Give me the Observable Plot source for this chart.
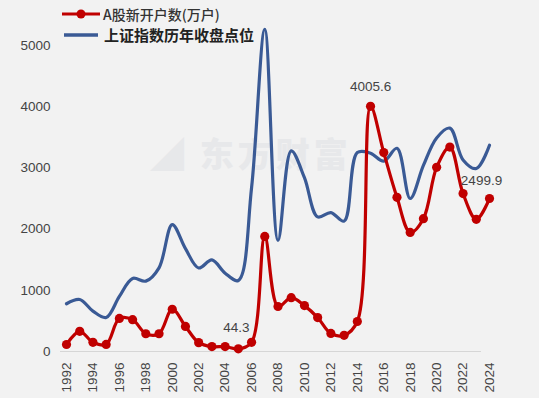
<!DOCTYPE html>
<html>
<head>
<meta charset="utf-8">
<script src="https://cdn.jsdelivr.net/npm/d3@7"></script>
<script src="https://cdn.jsdelivr.net/npm/@observablehq/plot@0.6"></script>
<style>
  html, body { margin: 0; padding: 0; background: #f2f2f2; }
  #wrap { position: relative; width: 539px; height: 398px; overflow: hidden; background: #f2f2f2; }
  #chart { position: relative; z-index: 1; }
  #legend { position: absolute; z-index: 2; left: 62px; top: 3px; font-family: "Noto Sans CJK SC", sans-serif; }
  .item { display: flex; align-items: center; height: 21px; }
  .item span { margin-left: 3px; }
  #wm { position: absolute; z-index: 0; left: 150px; top: 128px; font-family: "Noto Sans CJK SC", sans-serif; font-weight: 900; font-size: 34px; color: #e7e8ea; letter-spacing: 4px; }
</style>
</head>
<body>
<div id="wrap">
  <div id="wm">◢ 东方财富</div>
  <div id="chart"></div>
  <div id="legend">
    <div class="item">
      <svg width="38" height="12"><line x1="0" y1="6" x2="38" y2="6" stroke="#c00000" stroke-width="3"/><circle cx="19" cy="6" r="4.5" fill="#c00000"/></svg>
      <span style="font-size:14px;color:#333;font-weight:500">A股新开户数(万户)</span>
    </div>
    <div class="item">
      <svg width="38" height="12"><line x1="2" y1="6" x2="36" y2="6" stroke="#3a5a95" stroke-width="3.5"/></svg>
      <span style="font-size:15px;color:#222;font-weight:700;margin-left:4px">上证指数历年收盘点位</span>
    </div>
  </div>
</div>
<script>
const years = d3.range(1992, 2025);
const newAccounts = [114, 330, 150, 115, 540, 520, 290, 290, 690, 410, 145, 80, 80, 44.3, 150,
  1880, 735, 880, 750, 555, 295, 265, 490, 4005.6, 3250, 2520, 1945, 2170, 3010, 3340, 2580, 2160, 2499.9];
const indexClose = [780, 850, 660, 555, 900, 1194, 1150, 1367, 2073, 1680, 1365, 1497, 1280, 1161, 2675,
  5262, 1815, 3277, 2840, 2199, 2269, 2130, 3250, 3240, 3110, 3320, 2500, 3040, 3490, 3650, 3130, 2990, 3370];
const yTicks = [0, 1000, 2000, 3000, 4000, 5000];
const xTicks = d3.range(1992, 2025, 2);
const labelYears = [2005, 2015, 2024];
const labelTexts = ["44.3", "4005.6", "2499.9"];

const red = years.map((y, i) => ({year: y, value: newAccounts[i]}));
const blue = years.map((y, i) => ({year: y, value: indexClose[i]}));
const labels = labelYears.map((y, i) => ({year: y, value: newAccounts[years.indexOf(y)], text: labelTexts[i]}));

const chart = Plot.plot({
  width: 539,
  height: 398,
  marginLeft: 66,
  marginRight: 50,
  marginTop: 45,
  marginBottom: 47,
  style: {background: "transparent", fontFamily: "Liberation Sans, Arial, sans-serif"},
  x: {domain: [1992, 2024]},
  y: {domain: [0, 5000]},
  marks: [
    Plot.ruleY([0], {stroke: "#d6d6d6", strokeWidth: 1.2, insetLeft: -6, insetRight: 8}),
    Plot.axisY({ticks: yTicks, tickFormat: "d", tickSize: 0, tickPadding: 16, fontSize: 13.5, fill: "#444", label: null}),
    Plot.axisX({ticks: xTicks, tickFormat: "d", tickSize: 0, tickPadding: 11, tickRotate: -90, fontSize: 13.5, fill: "#444", label: null}),
    Plot.line(blue, {x: "year", y: "value", stroke: "#3a5a95", strokeWidth: 3.2, curve: "catmull-rom"}),
    Plot.line(red, {x: "year", y: "value", stroke: "#c00000", strokeWidth: 3.2, curve: "catmull-rom"}),
    Plot.dot(red, {x: "year", y: "value", r: 4.6, fill: "#c00000"}),
    Plot.text(labels.filter(d => d.year === 2005), {x: "year", y: "value", text: "text", dy: -21, dx: -2, fontSize: 13.5, fill: "#444"}),
    Plot.text(labels.filter(d => d.year === 2015), {x: "year", y: "value", text: "text", dy: -20, dx: 0, fontSize: 13.5, fill: "#444"}),
    Plot.text(labels.filter(d => d.year === 2024), {x: "year", y: "value", text: "text", dy: -18, dx: -8, fontSize: 13.5, fill: "#444"})
  ]
});
document.getElementById("chart").appendChild(chart);
</script>
</body>
</html>
